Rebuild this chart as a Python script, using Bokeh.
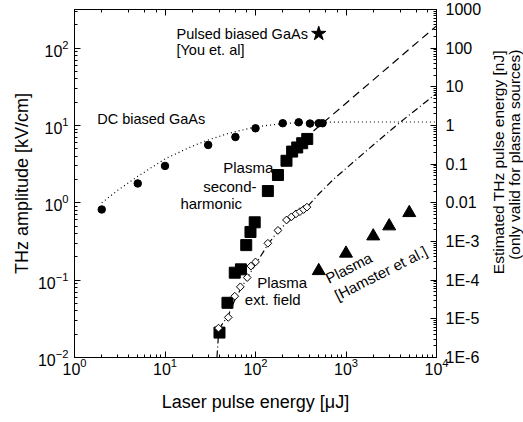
import math
from bokeh.plotting import figure
from bokeh.layouts import row
from bokeh.models import (LogAxis, Range1d, FixedTicker, CustomJSTickFormatter,
                          Label, LogScale, LogTicker)
from bokeh.embed import file_html
from bokeh.resources import INLINE

# ---------------- data ----------------
# DC biased GaAs (filled circles) and its dotted fit
dc_x = [2, 5, 10, 30, 60, 100, 200, 300, 400, 500, 550]
dc_y = [0.82, 1.78, 3.0, 5.6, 7.1, 9.2, 10.7, 11.0, 10.6, 10.7, 10.7]
dc_fit_x = [2, 3, 5, 10, 20, 30, 50, 100, 200, 400, 1000, 10000]
dc_fit_y = [1.0, 1.45, 2.2, 3.7, 5.4, 6.5, 7.9, 9.6, 10.6, 11.0, 11.1, 11.1]

# Plasma second-harmonic (filled squares) and dashed fit
sh_x = [40, 49, 59, 69, 79, 88, 98, 137, 177, 220, 254, 289, 328, 373]
sh_y = [0.021, 0.051, 0.125, 0.138, 0.284, 0.42, 0.56, 1.42, 2.29, 3.5, 4.6, 5.2, 5.9, 6.7]
sh_fit_x = [340, 10000]
sh_fit_y = [6.6, 194]

# Plasma ext. field (open diamonds) and dash-dot fit
ef_x = [39, 50, 59, 68, 81, 89, 100, 137, 177, 220, 250, 280, 310, 340, 370]
ef_y = [0.024, 0.033, 0.062, 0.082, 0.108, 0.152, 0.172, 0.30, 0.44, 0.60, 0.66, 0.72, 0.77, 0.82, 0.88]
ef_fit_x = [37.5, 39, 42, 50, 60, 70, 80, 100, 140, 180, 240, 370, 500, 733, 2000, 4000, 10000]
ef_fit_y = [0.01, 0.02, 0.026, 0.035, 0.058, 0.08, 0.105, 0.16, 0.30, 0.44, 0.60, 0.88, 1.3, 2.03, 5.6, 11.1, 26]

# Plasma [Hamster et al.] (filled triangles)
ham_x = [500, 1000, 2000, 3000, 5000]
ham_y = [0.132, 0.222, 0.371, 0.50, 0.743]

# Pulsed biased GaAs [You et al.] (star)
you_x = [500]
you_y = [154]

# right axis (estimated THz pulse energy, nJ)
right_ticks = [1e-6, 1e-5, 1e-4, 1e-3, 0.01, 0.1, 1, 10, 100, 1000]
right_labels = ["1E-6", "1E-5", "1E-4", "1E-3", "0.01", "0.1", "1", "10", "100", "1000"]
right_title = ["Estimated THz pulse energy [nJ]", "(only valid for plasma sources)"]

# ---------------- figure ----------------
FONT = "Liberation Sans"
TOP, BOTTOM = 9, 60
H = TOP + 348 + BOTTOM

p = figure(frame_width=362, frame_height=348, x_axis_type="log", y_axis_type="log",
           x_range=Range1d(1, 1e4), y_range=Range1d(0.01, 10 ** 2.5),
           output_backend="svg", toolbar_location=None,
           min_border_left=74, min_border_right=46, min_border_top=TOP,
           min_border_bottom=BOTTOM)
p.xgrid.visible = False
p.ygrid.visible = False
p.outline_line_color = "black"
p.background_fill_color = "white"
p.border_fill_color = "white"

bottom_axis = p.below[0]
left_axis = p.left[0]

p.extra_y_ranges = {"energy": Range1d(1e-6, 1e3)}
p.extra_y_scales = {"energy": LogScale()}

minor_right = [m * 10.0 ** e for e in range(-6, 3) for m in range(2, 10)]
right_axis = LogAxis(y_range_name="energy",
                     ticker=FixedTicker(ticks=right_ticks, minor_ticks=minor_right),
                     formatter=CustomJSTickFormatter(
                         args=dict(tks=right_ticks, labs=right_labels),
                         code="""
const lt = Math.log10(tick);
for (let i = 0; i < tks.length; i++) {
  if (Math.abs(Math.log10(tks[i]) - lt) < 1e-6) return labs[i];
}
return '';
"""))
p.add_layout(right_axis, "right")

top_axis = LogAxis(ticker=LogTicker(),
                   formatter=CustomJSTickFormatter(code="return ' ';"),
                   major_label_text_font_size="1px", major_label_text_alpha=0,
                   major_label_standoff=0)
p.add_layout(top_axis, "above")

bottom_axis.axis_label = "Laser pulse energy [\u03bcJ]"
left_axis.axis_label = "THz amplitude [kV/cm]"

for ax in [bottom_axis, left_axis, right_axis, top_axis]:
    ax.axis_line_color = "black"
    ax.axis_line_width = 1
    ax.major_tick_in = 6
    ax.major_tick_out = 0
    ax.minor_tick_in = 3
    ax.minor_tick_out = 0
    ax.major_tick_line_color = "black"
    ax.minor_tick_line_color = "black"
    ax.major_label_text_font = FONT
    ax.axis_label_text_font = FONT
    ax.axis_label_text_font_style = "normal"
    ax.axis_label_text_color = "black"
    ax.axis_label_text_font_size = "18px"

for ax in [bottom_axis, left_axis, right_axis]:
    ax.major_label_text_font_size = "16px"
    ax.major_label_text_color = "black"

bottom_axis.major_label_standoff = 0
bottom_axis.axis_label_standoff = 14
left_axis.major_label_standoff = 6
left_axis.axis_label_standoff = 3
right_axis.major_label_standoff = 9

# ---------------- lines ----------------
p.line(dc_fit_x, dc_fit_y, line_color="black", line_width=1.2, line_dash="1 3")
p.line(sh_fit_x, sh_fit_y, line_color="black", line_width=1.2, line_dash="8 5")
p.line(ef_fit_x, ef_fit_y, line_color="black", line_width=1.2, line_dash="7 3 1 3")

# ---------------- markers ----------------
p.scatter(dc_x, dc_y, marker="circle", size=7.5, color="black")
p.scatter(sh_x, sh_y, marker="square", size=11, color="black")
p.scatter(ef_x, ef_y, marker="square", angle=math.pi / 4, size=5.5,
          fill_color="white", line_color="black", line_width=1)
p.scatter(ham_x, ham_y, marker="triangle", size=13, color="black")
p.scatter(you_x, you_y, marker="star", size=15, color="black")

# ---------------- annotations ----------------
def lab(fig, x, y, text, angle=0.0, size="15px", align="left"):
    fig.add_layout(Label(x=x, y=y, text=text, text_font=FONT, text_font_size=size,
                         text_color="black", text_align=align, text_baseline="middle",
                         angle=angle, angle_units="deg"))

lab(p, 13.4, 154, "Pulsed biased GaAs", size="14.5px")
lab(p, 13.4, 94, "[You et. al]", size="14.5px")
lab(p, 1.78, 12.06, "DC biased GaAs", size="14.5px")
lab(p, 44, 2.87, "Plasma")
lab(p, 26.4, 1.64, "second-")
lab(p, 14.8, 0.98, "harmonic")
lab(p, 104.4, 0.0925, "Plasma")
lab(p, 76.2, 0.0565, "ext. field")
lab(p, 609, 0.103, "Plasma", angle=27)
lab(p, 766, 0.0623, "[Hamster et al.]", angle=27)

# ---------------- right-hand axis title (narrow companion panel) ----------------
W2 = 41
p2 = figure(width=W2, height=H, x_range=Range1d(0, W2), y_range=Range1d(0, H),
            output_backend="svg", toolbar_location=None,
            x_axis_location=None, y_axis_location=None,
            min_border_left=0, min_border_right=0, min_border_top=0, min_border_bottom=0)
p2.outline_line_color = None
p2.xgrid.visible = False
p2.ygrid.visible = False
p2.background_fill_color = "white"
p2.border_fill_color = "white"
lab(p2, 14, H - 183, right_title[0], angle=90, size="15.5px", align="center")
lab(p2, 30, H - 174, right_title[1], angle=90, size="15.5px", align="center")

open("out.html", "w").write(file_html(row(p, p2), INLINE))
